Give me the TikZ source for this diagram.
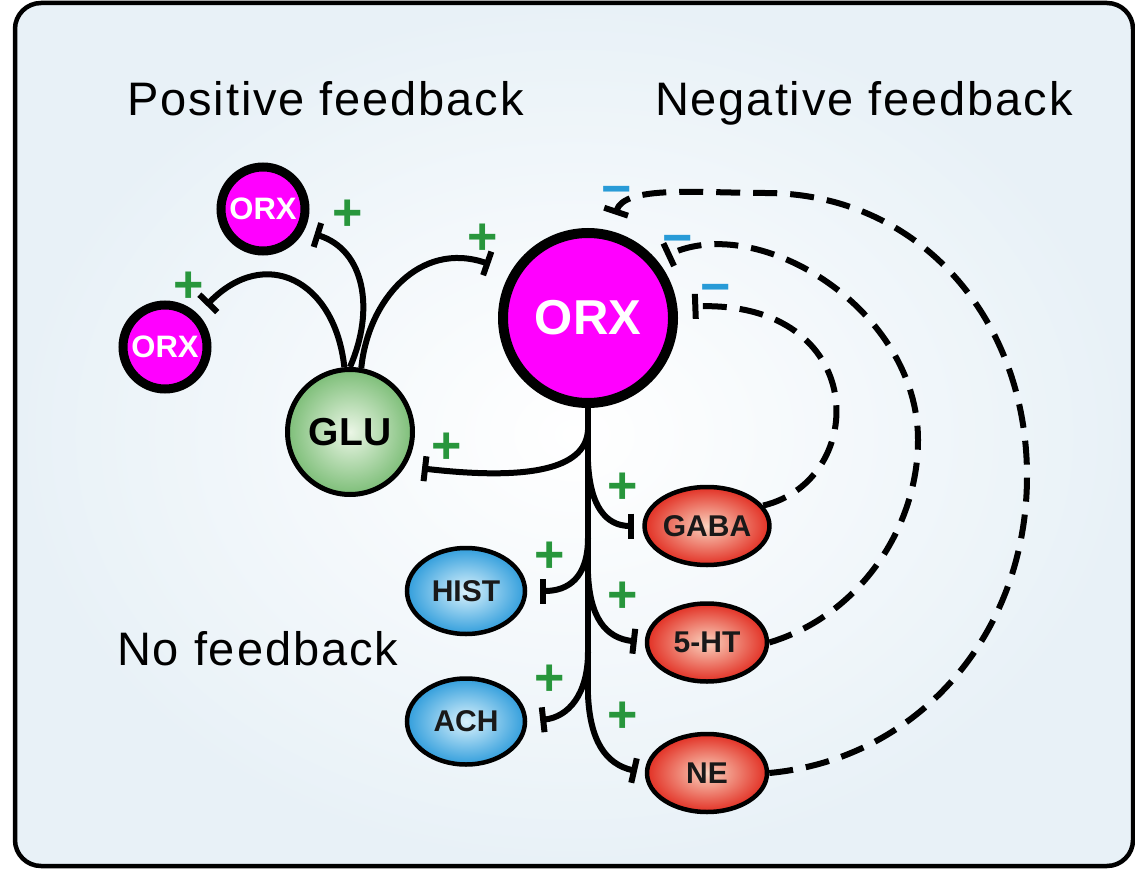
\documentclass[tikz,border=0pt]{standalone}
\usepackage{fontspec}
\setmainfont{Liberation Sans}
\newfontfamily\trackfont[LetterSpace=4]{Liberation Sans}
\usepackage{tikz}
\usetikzlibrary{shapes.geometric, arrows.meta, positioning}

\definecolor{orxpink}{RGB}{255,0,255}
\definecolor{plusgreen}{RGB}{40,150,60}
\definecolor{minusblue}{RGB}{40,155,215}
\definecolor{panelblue}{RGB}{232,241,247}
\definecolor{glugreen}{RGB}{125,190,120}
\definecolor{glulight}{RGB}{235,246,230}
\definecolor{redout}{RGB}{226,48,36}
\definecolor{redin}{RGB}{250,210,190}
\definecolor{blueout}{RGB}{50,158,220}
\definecolor{bluein}{RGB}{218,242,252}

\begin{document}
\begin{tikzpicture}[
    x=1pt, y=-1pt,
    orxbig/.style={circle, draw, line width=10pt, fill=orxpink, minimum size=170pt, inner sep=0pt, text=white, font=\bfseries\fontsize{49}{49}\selectfont},
    orxsmall/.style={circle, draw, line width=9pt, fill=orxpink, minimum size=84pt, inner sep=0pt, text=white, font=\bfseries\fontsize{31}{31}\selectfont},
    glunode/.style={circle, draw, line width=5pt, inner color=glulight, outer color=glugreen, minimum size=125pt, inner sep=0pt, font=\bfseries\fontsize{39}{39}\selectfont},
    redcell/.style={ellipse, draw, line width=4.5pt, inner color=redin, outer color=redout, minimum width=120pt, minimum height=78pt, inner sep=0pt, text=black!90, font=\bfseries\fontsize{30}{30}\selectfont},
    bluecell/.style={ellipse, draw, line width=4.5pt, inner color=bluein, outer color=blueout, minimum width=118pt, minimum height=86pt, inner sep=0pt, text=black!90, font=\bfseries\fontsize{30}{30}\selectfont},
    link/.style={line width=6pt},
    act/.style={link, -{Bar[width=25pt]}},
    fb/.style={line width=6pt, dash pattern=on 24pt off 13pt, -{Bar[width=25pt]}},
    plus/.style={text=plusgreen, inner sep=0pt, font=\bfseries\fontsize{52}{52}\selectfont},
    minus/.style={text=minusblue, inner sep=0pt, font=\bfseries\fontsize{52}{52}\selectfont},
    heading/.style={anchor=base west, inner sep=0pt, font=\trackfont\fontsize{47}{47}\selectfont}
]

\useasboundingbox (0,0) rectangle (1135,869);
\shadedraw[line width=4.5pt, rounded corners=26pt, inner color=white, outer color=panelblue] (15,3) rectangle (1133,866);

\node[heading] (posfb) at (127,116) {Positive feedback};
\node[heading] (negfb) at (655,116) {Negative feedback};
\node[heading] (nofb) at (117,665) {No feedback};

\node[orxbig] (orx) at (588,318) {ORX};
\node[orxsmall] (orxa) at (263,209) {ORX};
\node[orxsmall] (orxb) at (165,347) {ORX};
\node[glunode] (glu) at (350,432) {GLU};

\node[redcell] (gaba) at (707,526) {GABA};
\node[redcell, below=34pt of gaba] (sht) {5-HT};
\node[redcell, below=48pt of sht] (ne) {NE};
\node[bluecell] (hist) at (466,591) {HIST};
\node[bluecell, below=40pt of hist] (ach) {ACH};

\coordinate (kglu) at (588,430);
\coordinate (kgaba) at (588,462);
\coordinate (khist) at (588,538);
\coordinate (ksht) at (588,574);
\coordinate (kach) at (588,652);
\coordinate (stemend) at (588,695);

\draw[link] (orx.south) -- (stemend);
\draw[act, shorten >=17pt] (kglu) .. controls (586,465) and (540,482) .. (glu.-32);
\draw[act, shorten >=8pt] (kgaba) .. controls (590,505) and (605,526) .. (gaba.west);
\draw[act, shorten >=8pt] (ksht) .. controls (590,617) and (605,638) .. (sht.west);
\draw[act, shorten >=8pt] (stemend) .. controls (590,740) and (605,764) .. (ne.west);
\draw[act, shorten >=13pt] (khist) .. controls (588,578) and (568,591) .. (hist.east);
\draw[act, shorten >=13pt] (kach) .. controls (588,695) and (568,717) .. (ach.east);

\draw[act, shorten >=11pt] (glu.north) .. controls (375,310) and (365,250) .. (orxa.-28);
\draw[act, shorten >=12pt] (glu.95) .. controls (335,280) and (265,245) .. (orxb.45);
\draw[act, shorten >=22pt] (glu.80) .. controls (368,300) and (420,240) .. (orx.149);

\draw[fb, shorten >=15pt] (gaba.20) .. controls (870,480) and (870,300) .. (orx.7);
\draw[fb, shorten >=10pt] (sht.east) .. controls (861,615) and (918,526) .. (918,440)
    .. controls (918,310) and (760,212) .. (orx.40);
\draw[fb, shorten >=17pt] (ne.east) .. controls (920,759) and (1027,632) .. (1027,476)
    .. controls (1027,320) and (920,193) .. (765,193)
    .. controls (700,193) and (625,185) .. (orx.76);

\node[plus] (pa) at (348,215) {+};
\node[plus] (pb) at (189,287) {+};
\node[plus] (pc) at (483,239) {+};
\node[plus] (pd) at (447,448) {+};
\node[plus] (pe) at (623,488) {+};
\node[plus] (pf) at (550,557) {+};
\node[plus] (pg) at (623,597) {+};
\node[plus] (ph) at (550,680) {+};
\node[plus] (pi) at (623,717) {+};

\node[minus] (ma) at (617,196) {\char"2212};
\node[minus] (mb) at (678,245) {\char"2212};
\node[minus] (mc) at (716,294) {\char"2212};

\end{tikzpicture}
\end{document}
